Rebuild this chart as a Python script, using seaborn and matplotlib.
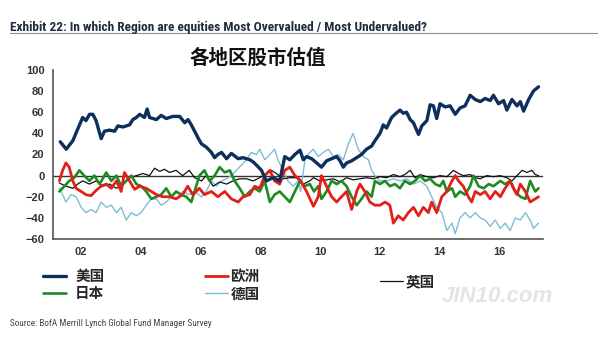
import numpy as np
import pandas as pd
import matplotlib
matplotlib.use("Agg")
import matplotlib.pyplot as plt
import seaborn as sns
from matplotlib.lines import Line2D
import logging
logging.getLogger("matplotlib.font_manager").setLevel(logging.ERROR)

# ---------------- data ----------------
usa_t = [2001.30, 2001.50, 2001.72, 2001.90, 2002.05, 2002.16, 2002.28, 2002.39, 2002.50, 2002.67,
         2002.78, 2002.95, 2003.12, 2003.23, 2003.40, 2003.62, 2003.73, 2003.85, 2003.96, 2004.12,
         2004.21, 2004.29, 2004.52, 2004.68, 2004.85, 2005.07, 2005.30, 2005.47, 2005.58, 2005.69,
         2005.80, 2005.91, 2006.03, 2006.19, 2006.36, 2006.47, 2006.58, 2006.70, 2006.87, 2007.03,
         2007.26, 2007.42, 2007.65, 2007.76, 2007.87, 2008.04, 2008.20, 2008.43, 2008.65, 2008.82,
         2008.99, 2009.16, 2009.33, 2009.44, 2009.55, 2009.72, 2009.89, 2010.05, 2010.22, 2010.39,
         2010.56, 2010.67, 2010.78, 2010.89, 2011.06, 2011.23, 2011.39, 2011.56, 2011.73, 2011.84,
         2012.01, 2012.12, 2012.23, 2012.40, 2012.51, 2012.68, 2012.79, 2012.90, 2013.02, 2013.13,
         2013.30, 2013.41, 2013.58, 2013.69, 2013.80, 2013.91, 2014.02, 2014.19, 2014.36, 2014.53,
         2014.69, 2014.86, 2015.03, 2015.20, 2015.37, 2015.53, 2015.70, 2015.81, 2015.98, 2016.15,
         2016.26, 2016.43, 2016.60, 2016.71, 2016.82, 2016.99, 2017.15, 2017.32]
usa_v = [32, 25, 33, 45, 55, 52, 58, 58, 52, 35,
         42, 43, 42, 47, 46, 48, 53, 55, 58, 55,
         63, 55, 53, 57, 54, 56, 56, 50, 53, 48,
         42, 36, 30, 27, 22, 17, 20, 22, 16, 21,
         16, 17, 15, 13, 10, 5, -5, -2, -5, 18,
         15, 20, 24, 15, 18, 16, 12, 8, 14, 16,
         18, 14, 8, 12, 14, 17, 20, 25, 28, 33,
         40, 48, 45, 55, 58, 62, 59, 60, 53, 50,
         39, 47, 52, 67, 66, 54, 68, 65, 66, 58,
         64, 66, 76, 72, 70, 73, 71, 76, 68, 71,
         62, 72, 66, 70, 61, 72, 80, 84]

europe_t = [2001.27, 2001.38, 2001.49, 2001.60, 2001.72, 2001.83, 2002.00, 2002.16, 2002.33, 2002.50,
            2002.67, 2002.84, 2003.01, 2003.18, 2003.34, 2003.45, 2003.62, 2003.79, 2003.96, 2004.18,
            2004.35, 2004.52, 2004.74, 2004.96, 2005.18, 2005.40, 2005.57, 2005.74, 2005.96, 2006.13,
            2006.36, 2006.58, 2006.81, 2007.03, 2007.26, 2007.42, 2007.65, 2007.81, 2007.98, 2008.15,
            2008.32, 2008.48, 2008.65, 2008.82, 2008.99, 2009.16, 2009.33, 2009.55, 2009.78, 2009.94,
            2010.05, 2010.22, 2010.39, 2010.56, 2010.72, 2010.89, 2011.06, 2011.23, 2011.34, 2011.50,
            2011.67, 2011.84, 2012.01, 2012.18, 2012.34, 2012.46, 2012.62, 2012.79, 2012.96, 2013.13,
            2013.30, 2013.46, 2013.63, 2013.74, 2013.91, 2014.08, 2014.25, 2014.42, 2014.53, 2014.64,
            2014.80, 2014.97, 2015.08, 2015.20, 2015.37, 2015.53, 2015.70, 2015.87, 2016.04, 2016.20,
            2016.37, 2016.48, 2016.60, 2016.71, 2016.88, 2017.04, 2017.21, 2017.32]
europe_v = [-5, 5, 12, 8, -5, -12, -15, -18, -19, -14,
            -10, -8, -12, -5, -15, 3, -5, -13, -10, -12,
            -15, -18, -20, -20, -22, -18, -10, -18, -12, -18,
            -15, -20, -15, -22, -25, -20, -18, -10, -12, 0,
            5, -5, -8, 5, 8, 0, -4, -15, -29, -20,
            0, -10, -20, -25, -20, -15, -32, -15, -8, -15,
            -25, -28, -28, -25, -28, -45, -38, -42, -35, -30,
            -38, -30, -35, -25, -35, -20, -15, -5, 0, -5,
            -10, -20, -25, -15, -18, -15, -22, -15, -20, -12,
            -5, -12, -18, -8, -15, -25, -22, -20]

uk_t = [2001.27, 2001.49, 2001.72, 2001.88, 2002.05, 2002.28, 2002.50, 2002.73, 2002.95, 2003.18,
        2003.40, 2003.62, 2003.85, 2004.07, 2004.29, 2004.46, 2004.63, 2004.79, 2004.96, 2005.18,
        2005.40, 2005.62, 2005.80, 2006.03, 2006.19, 2006.42, 2006.64, 2006.87, 2007.09, 2007.31,
        2007.54, 2007.76, 2007.98, 2008.20, 2008.37, 2008.54, 2008.76, 2008.99, 2009.21, 2009.44,
        2009.66, 2009.78, 2010.00, 2010.22, 2010.45, 2010.67, 2010.89, 2011.11, 2011.34, 2011.56,
        2011.78, 2012.01, 2012.23, 2012.46, 2012.68, 2012.84, 2013.02, 2013.18, 2013.35, 2013.58,
        2013.80, 2014.02, 2014.25, 2014.47, 2014.64, 2014.80, 2015.03, 2015.20, 2015.37, 2015.59,
        2015.81, 2016.04, 2016.26, 2016.43, 2016.60, 2016.77, 2016.93, 2017.10, 2017.21, 2017.32]
uk_v = [-7, -10, -12, -8, -5, -8, -5, -10, -8, -12,
        -8, -2, 0, 2, 0, 7, 4, 6, 3, 5,
        0, 5, -2, -5, 0, -10, -6, -8, -5, -3,
        -3, -5, -2, 2, 5, 2, -3, -2, -2, -8,
        -5, -2, -5, -4, -3, -6, -2, -4, -3, -2,
        -3, -1, -2, 1, -1, 1, 5, -2, 1, -1,
        -2, 0, -1, 5, 2, 0, 1, -2, -3, 0,
        -1, 0, -2, -5, 0, 5, 3, 5, 1, 0]

japan_t = [2001.27, 2001.44, 2001.60, 2001.77, 2001.94, 2002.10, 2002.28, 2002.44, 2002.62, 2002.84,
           2003.01, 2003.18, 2003.34, 2003.51, 2003.68, 2003.85, 2004.01, 2004.18, 2004.35, 2004.52,
           2004.68, 2004.85, 2005.02, 2005.18, 2005.35, 2005.52, 2005.69, 2005.80, 2005.96, 2006.13,
           2006.30, 2006.47, 2006.64, 2006.81, 2006.98, 2007.14, 2007.31, 2007.48, 2007.65, 2007.81,
           2007.98, 2008.15, 2008.32, 2008.48, 2008.65, 2008.82, 2008.99, 2009.16, 2009.33, 2009.49,
           2009.66, 2009.80, 2009.94, 2010.05, 2010.22, 2010.39, 2010.56, 2010.72, 2010.89, 2011.06,
           2011.23, 2011.39, 2011.56, 2011.73, 2011.84, 2012.01, 2012.18, 2012.34, 2012.51, 2012.68,
           2012.84, 2013.02, 2013.18, 2013.35, 2013.52, 2013.69, 2013.86, 2014.02, 2014.13, 2014.25,
           2014.42, 2014.53, 2014.69, 2014.86, 2015.03, 2015.14, 2015.31, 2015.48, 2015.65, 2015.81,
           2016.04, 2016.20, 2016.37, 2016.54, 2016.71, 2016.88, 2017.04, 2017.21, 2017.32]
japan_v = [-15, -10, -5, -2, 5, 0, -5, 0, -8, 3,
           -5, 0, -10, -5, 0, -8, -10, -15, -22, -20,
           -18, -12, -20, -15, -18, -20, -25, -15, 0, 5,
           -5, 0, 8, 3, 5, -5, -12, -20, -15, -12,
           -15, -5, -25, -18, -15, -20, -25, -15, -5, -10,
           -8, -15, -10, -22, -15, -5, -8, -5, -10, -20,
           -28, -22, -15, -20, -5, -8, -5, -10, -8, -12,
           -5, -8, -5, 0, -5, -3, -8, -10, -5, -15,
           -12, -20, -15, -18, -10, 0, -10, -12, -8, -10,
           -5, -8, -5, -15, -20, -22, -5, -15, -12]

germany_t = [2001.27, 2001.38, 2001.49, 2001.66, 2001.83, 2002.00, 2002.16, 2002.33, 2002.50, 2002.67,
             2002.84, 2003.01, 2003.18, 2003.34, 2003.51, 2003.68, 2003.85, 2004.01, 2004.18, 2004.35,
             2004.52, 2004.68, 2004.85, 2005.02, 2005.18, 2005.40, 2005.62, 2005.80, 2006.03, 2006.19,
             2006.36, 2006.53, 2006.70, 2006.87, 2007.03, 2007.20, 2007.37, 2007.54, 2007.70, 2007.87,
             2007.98, 2008.15, 2008.32, 2008.48, 2008.59, 2008.76, 2008.93, 2009.10, 2009.27, 2009.35,
             2009.50, 2009.60, 2009.78, 2009.94, 2010.11, 2010.28, 2010.45, 2010.61, 2010.78, 2010.95,
             2011.11, 2011.28, 2011.45, 2011.62, 2011.73, 2011.84, 2012.01, 2012.23, 2012.46, 2012.68,
             2012.90, 2013.13, 2013.35, 2013.58, 2013.74, 2013.91, 2014.08, 2014.25, 2014.42, 2014.53,
             2014.69, 2014.86, 2015.03, 2015.20, 2015.37, 2015.53, 2015.70, 2015.87, 2016.04, 2016.20,
             2016.37, 2016.54, 2016.71, 2016.88, 2017.04, 2017.15, 2017.32]
germany_v = [-12, -18, -25, -18, -20, -30, -35, -32, -35, -25,
             -30, -28, -35, -30, -42, -35, -38, -35, -28, -22,
             -22, -28, -25, -20, -22, -15, -18, -15, -20, -15,
             -5, -10, -5, -3, 0, 5, 10, 15, 22, 20,
             25, 15, 20, 25, 15, 5, -5, -10, -5, -15,
             15, 20, 25, 18, 22, 25, 18, 20, 15, 30,
             40, 25, 18, 15, 5, 0, -5, -5, -3, -5,
             -3, -8, -5, -10, -20, -30, -35, -52, -45, -55,
             -40, -35, -40, -35, -40, -42, -48, -42, -50, -45,
             -52, -40, -42, -35, -42, -50, -45]

colors = {"美国": "#0d2f5c", "欧洲": "#e31f1a", "英国": "#111111",
          "日本": "#1f8a24", "德国": "#7fbcd6"}
widths = {"美国": 2.4, "欧洲": 2.0, "英国": 0.9, "日本": 1.9, "德国": 1.0}

series = {"美国": (usa_t, usa_v), "欧洲": (europe_t, europe_v), "英国": (uk_t, uk_v),
          "日本": (japan_t, japan_v), "德国": (germany_t, germany_v)}

yticks = [-60, -40, -20, 0, 20, 40, 60, 80, 100]
xticks = [2002, 2004, 2006, 2008, 2010, 2012, 2014, 2016]
xticklabels = ["02", "04", "06", "08", "10", "12", "14", "16"]

title_en = "Exhibit 22: In which Region are equities Most Overvalued / Most Undervalued?"
title_cn = "各地区股市估值"
source = "Source: BofA Merrill Lynch Global Fund Manager Survey"

# ---------------- drawing ----------------
sns.set_style("white")
plt.rcParams["font.family"] = ["Liberation Sans", "Noto Sans CJK SC", "DejaVu Sans"]

fig = plt.figure(figsize=(6.0, 3.41), dpi=100)
ax = fig.add_axes([0.088, 0.299, 0.817, 0.496])

for name in ["德国", "英国", "日本", "欧洲", "美国"]:
    t, v = series[name]
    df = pd.DataFrame({"t": t, "v": v})
    sns.lineplot(data=df, x="t", y="v", ax=ax, color=colors[name],
                 linewidth=widths[name], estimator=None, sort=False)

ax.axhline(0, color="#333333", linewidth=1.0, zorder=1)
ax.set_xlim(2001.05, 2017.47)
ax.set_ylim(-60, 100)
ax.set_yticks(yticks)
ax.set_xticks(xticks)
ax.set_xticklabels(xticklabels)
ax.set_xlabel("")
ax.set_ylabel("")
for s in ["top", "right"]:
    ax.spines[s].set_visible(False)
for s in ["left", "bottom"]:
    ax.spines[s].set_color("#555555")
    ax.spines[s].set_linewidth(1.2)
ax.tick_params(axis="both", direction="out", length=4, width=1.0, color="#555555",
               labelsize=8, labelcolor="#333333", pad=2)
for lab in ax.get_yticklabels() + ax.get_xticklabels():
    lab.set_fontweight("bold")

narrow = ["Roboto Condensed", "Open Sans Condensed", "Lato"]

# titles
fig.text(10 / 600, 1 - 27 / 341, title_en, fontsize=9.6, fontweight="bold",
         color="#1f2d3d", family=narrow, va="center")
fig.add_artist(Line2D([10 / 600, 597 / 600], [1 - 32.5 / 341, 1 - 32.5 / 341],
                      color="#8a8f99", linewidth=0.8))
fig.text(258 / 600, 1 - 58 / 341, title_cn, fontsize=14, fontweight="bold",
         family=["Noto Sans CJK SC"], ha="center", va="center", color="#111111")

# legends
def leg_kw(pad):
    return dict(frameon=False, handlelength=1.6, handletextpad=pad, labelspacing=0.1,
                borderaxespad=0, borderpad=0,
                prop={"family": "Noto Sans CJK SC", "weight": "bold", "size": 10.5})
def mk(name):
    return Line2D([], [], color=colors[name], linewidth=widths[name])
fig.legend([mk("美国"), mk("日本")], ["美国", "日本"], loc="upper left",
           bbox_to_anchor=(43 / 600, 1 - 268 / 341), **leg_kw(0.6))
fig.legend([mk("欧洲"), mk("德国")], ["欧洲", "德国"], loc="upper left",
           bbox_to_anchor=(205 / 600, 1 - 268 / 341), **leg_kw(0.15))
fig.legend([mk("英国")], ["英国"], loc="upper left",
           bbox_to_anchor=(380 / 600, 1 - 273 / 341), **leg_kw(0.15))

# watermark
fig.text(497 / 600, 1 - 296 / 341, "JIN10.com", fontsize=16, fontweight="bold",
         style="italic", color="#e4e4e4", ha="center", va="center")

fig.text(10 / 600, 1 - 323 / 341, source, fontsize=6.6, color="#444444",
         family=narrow, va="center")

fig.savefig("out.png", dpi=100, facecolor="white")
